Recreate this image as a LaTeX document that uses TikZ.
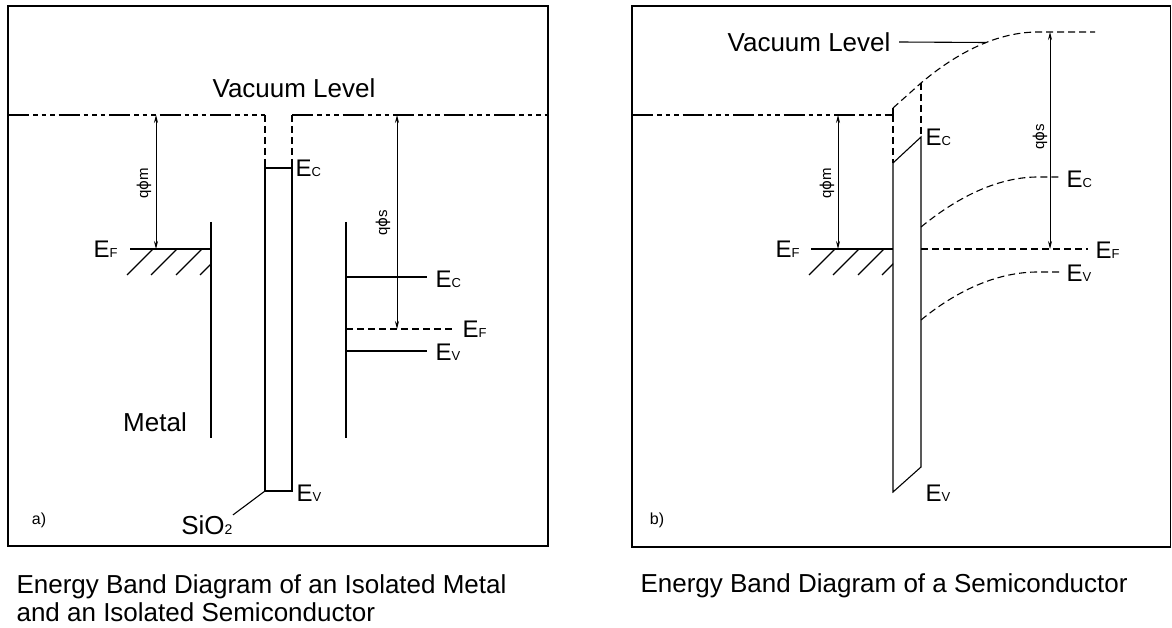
\documentclass[tikz,border=0pt]{standalone}
\usepackage{fontspec}
\setmainfont{Liberation Sans}
\newfontfamily\phifont{DejaVu Sans}
\usetikzlibrary{arrows.meta}
\newcommand{\elev}[1]{E{\fontsize{13}{13}\selectfont #1}}

\begin{document}
\begin{tikzpicture}[
  x=1pt, y=-1pt, line width=1.1pt,
  frame/.style={line width=1.3pt},
  vac/.style={dash pattern=on 21pt off 4pt on 4.5pt off 4pt on 4.5pt off 4pt on 4.5pt off 4pt},
  dsh/.style={dash pattern=on 7pt off 4pt},
  dimarrow/.style={{Stealth[length=8pt,width=4pt]}-{Stealth[length=8pt,width=4pt]}, line width=0.8pt},
  lvl/.style={font=\fontsize{24}{24}\selectfont, inner sep=0pt},
  captxt/.style={font=\fontsize{26}{28}\selectfont, inner sep=0pt},
  philbl/.style={font=\fontsize{15}{15}\selectfont, inner sep=0pt, rotate=90},
  paneltag/.style={font=\fontsize{16}{16}\selectfont, inner sep=0pt}
]
\useasboundingbox (0,0) rectangle (1172,628);

  % Frames
  \draw[frame] (8,6) rectangle (548,546);
  \draw[frame] (632,6) rectangle (1170.5,547);

  % ---- a) isolated metal and semiconductor ----
  \draw[vac] (8,115) -- (265,115);
  \draw[vac] (292,115) -- (548,115);
  \node[captxt] (vacA) at (294,88) {Vacuum Level};

  % oxide
  \coordinate (oxAtl) at (265,115);
  \coordinate (oxAtr) at (292,115);
  \coordinate (oxAcl) at (265,162);
  \coordinate (oxAcr) at (292,162);
  \coordinate (oxAbl) at (265,491);
  \coordinate (oxAbr) at (292,491);
  \draw[dsh] (oxAtl) -- (oxAcl) (oxAtr) -- (oxAcr);
  \draw (oxAcl) -- (oxAbl) -- (oxAbr) -- (oxAcr);
  \draw (265,168) -- (292,168);
  \node[lvl, anchor=west] (ecOxA) at (295,168) {\elev{C}};
  \node[lvl, anchor=west] (evOxA) at (296,493) {\elev{V}};
  \node[captxt, anchor=east] (sio2) at (233,525) {SiO{\fontsize{14}{14}\selectfont 2}};
  \draw (oxAbl) -- (sio2.north east);

  % metal
  \draw (211,222) -- (211,438);
  \draw (130,249) -- (211,249);
  \begin{scope}
    \clip (118,249) rectangle (211,285);
    \foreach \hx in {153,177,202,226}
      \draw (\hx,249) -- ++(-26,26);
  \end{scope}
  \node[lvl, anchor=east] (efMetA) at (118,249) {\elev{F}};
  \node[captxt] (metal) at (155,422) {Metal};
  \draw[dimarrow] (156,115) -- (156,249);
  \node[philbl] (phimA) at (144,183) {q{\phifont ϕ}m};

  % semiconductor
  \draw (346,222) -- (346,438);
  \draw (346,277) -- (427,277);
  \draw[dsh] (346,329) -- (455,329);
  \draw (346,351) -- (427,351);
  \node[lvl, anchor=west] (ecSemA) at (435,279) {\elev{C}};
  \node[lvl, anchor=west] (efSemA) at (462,329) {\elev{F}};
  \node[lvl, anchor=west] (evSemA) at (435,352) {\elev{V}};
  \draw[dimarrow] (397,115) -- (397,329);
  \node[philbl] (phisA) at (383,223) {q{\phifont ϕ}s};

  \node[paneltag] (tagA) at (39,520) {a)};

  % ---- b) semiconductor ----
  \draw[vac] (632,115) -- (893,115);
  \draw (893,115) -- (893,108);
  \draw[dsh] (893,108) -- (921,83)
    .. controls (960,50) and (1000,32) .. (1038,32) -- (1095,32);
  \draw[dsh] (893,115) -- (893,163);
  \draw[dsh] (921,83) -- (921,137);
  \node[captxt, anchor=east] (vacB) at (891,42) {Vacuum Level};
  \coordinate (vacBend) at (986,42.5);
  \draw ([xshift=8pt]vacB.east) -- (vacBend);

  % oxide
  \draw (893,163) -- (893,492) -- (921,467) -- (921,137) -- cycle;
  \node[lvl, anchor=west] (ecOxB) at (925,137) {\elev{C}};
  \node[lvl, anchor=west] (evOxB) at (925,493) {\elev{V}};

  % metal
  \draw (811,249) -- (893,249);
  \begin{scope}
    \clip (800,249) rectangle (893,285);
    \foreach \hx in {835,859,884,908}
      \draw (\hx,249) -- ++(-26,26);
  \end{scope}
  \node[lvl, anchor=east] (efMetB) at (800,249) {\elev{F}};
  \draw[dimarrow] (838,115) -- (838,249);
  \node[philbl] (phimB) at (827,183) {q{\phifont ϕ}m};

  % bent bands
  \draw[dsh] (921,227) .. controls (960,195) and (1000,177) .. (1038,177) -- (1059,177);
  \draw[dsh] (921,249) -- (1088,249);
  \draw[dsh] (921,320) .. controls (960,288) and (1000,272) .. (1038,272) -- (1059,272);
  \node[lvl, anchor=west] (ecSemB) at (1066,179) {\elev{C}};
  \node[lvl, anchor=west] (efSemB) at (1095,250) {\elev{F}};
  \node[lvl, anchor=west] (evSemB) at (1066,273) {\elev{V}};
  \draw[dimarrow] (1050,32) -- (1050,249);
  \node[philbl] (phisB) at (1040,137) {q{\phifont ϕ}s};

  \node[paneltag] (tagB) at (657,520) {b)};

  % Captions
  \node[captxt, anchor=north west, align=left] (capA) at (16,574)
    {Energy Band Diagram of an Isolated Metal\\and an Isolated Semiconductor};
  \node[captxt, anchor=base west] (capB) at (640,592)
    {Energy Band Diagram of a Semiconductor};

\end{tikzpicture}
\end{document}
